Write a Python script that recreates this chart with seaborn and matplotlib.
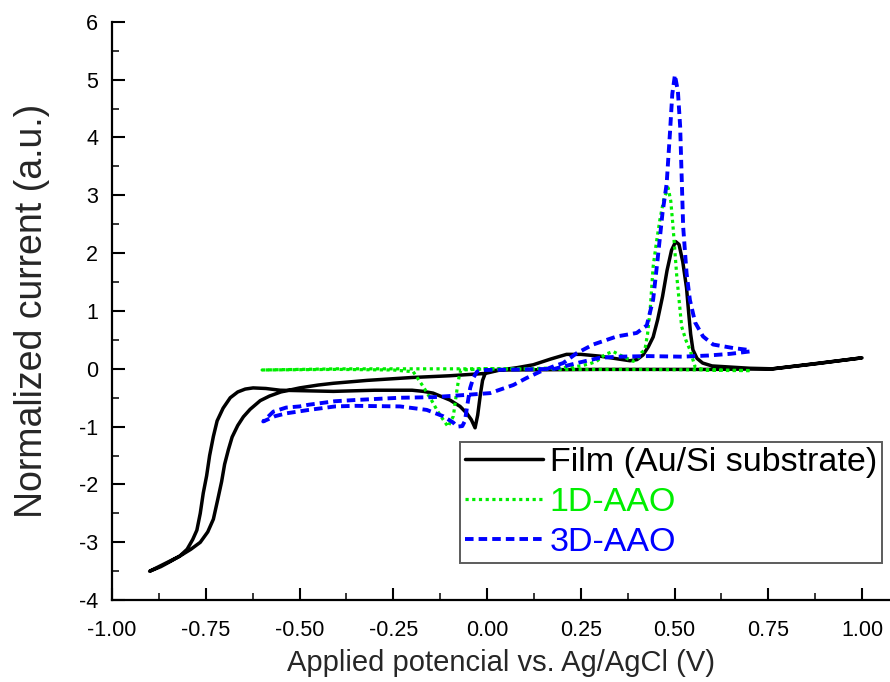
import matplotlib
matplotlib.use("Agg")
import matplotlib.pyplot as plt
from matplotlib.ticker import MultipleLocator, FormatStrFormatter
import seaborn as sns

# Cyclic voltammograms, normalized current vs. potential
film_x = [0.0, -0.005, -0.012, -0.018, -0.025, -0.032, -0.042, -0.054, -0.072, -0.099,
          -0.144, -0.17, -0.2, -0.3, -0.41, -0.552, -0.59, -0.624, -0.645, -0.665,
          -0.685, -0.704, -0.72, -0.73, -0.74, -0.748, -0.757, -0.765, -0.774, -0.785,
          -0.8, -0.82, -0.85, -0.87, -0.9, -0.86, -0.82, -0.79, -0.765, -0.745,
          -0.73, -0.718, -0.708, -0.7, -0.69, -0.68, -0.665, -0.65, -0.632, -0.605,
          -0.58, -0.55, -0.5, -0.45, -0.41, -0.32, -0.2, -0.1, -0.005, 0.035,
          0.08, 0.123, 0.17, 0.212, 0.25, 0.3, 0.35, 0.381, 0.4, 0.416,
          0.43, 0.443, 0.455, 0.468, 0.48, 0.492, 0.503, 0.512, 0.522, 0.532,
          0.538, 0.543, 0.549, 0.56, 0.575, 0.6, 0.65, 0.7, 0.763, 0.88,
          1.0, 0.85, 0.76, 0.6, 0.3, 0.05, 0.0]
film_y = [-0.03, -0.08, -0.2, -0.45, -0.8, -1.02, -0.88, -0.77, -0.65, -0.54,
          -0.42, -0.39, -0.37, -0.37, -0.39, -0.37, -0.34, -0.33, -0.35, -0.4,
          -0.5, -0.68, -0.9, -1.17, -1.5, -1.85, -2.15, -2.5, -2.79, -2.95,
          -3.12, -3.24, -3.35, -3.42, -3.5, -3.37, -3.24, -3.12, -3.0, -2.82,
          -2.6, -2.25, -1.95, -1.65, -1.4, -1.18, -0.98, -0.83, -0.7, -0.55,
          -0.47, -0.4, -0.33, -0.28, -0.25, -0.2, -0.15, -0.12, -0.08, -0.02,
          0.02, 0.07, 0.17, 0.25, 0.25, 0.22, 0.17, 0.14, 0.16, 0.24,
          0.38, 0.55, 0.85, 1.25, 1.7, 2.05, 2.2, 2.15, 1.85, 1.4,
          0.95, 0.6, 0.33, 0.18, 0.1, 0.05, 0.03, 0.01, 0.0, 0.09,
          0.19, 0.07, 0.0, -0.01, -0.01, -0.02, -0.03]

aao1d_x = [0.7, 0.6, 0.4, 0.2, 0.0, -0.07, -0.075, -0.08, -0.09, -0.104,
           -0.117, -0.134, -0.144, -0.17, -0.197, -0.25, -0.4, -0.6, -0.4, -0.2,
           0.0, 0.1, 0.2, 0.25, 0.275, 0.292, 0.315, 0.336, 0.36, 0.39,
           0.405, 0.412, 0.421, 0.428, 0.435, 0.443, 0.452, 0.461, 0.472, 0.483,
           0.49, 0.496, 0.506, 0.519, 0.53, 0.541, 0.555, 0.58, 0.65, 0.7]
aao1d_y = [-0.03, -0.02, -0.01, -0.01, 0.0, -0.02, -0.15, -0.35, -0.82, -1.0,
           -0.88, -0.71, -0.59, -0.31, -0.05, -0.02, -0.01, -0.02, 0.0, 0.0,
           0.0, 0.0, 0.02, 0.05, 0.09, 0.13, 0.25, 0.3, 0.22, 0.13,
           0.2, 0.28, 0.33, 0.6, 1.02, 1.77, 2.2, 2.58, 2.95, 3.13,
           2.9, 2.46, 1.6, 0.73, 0.5, 0.33, 0.03, -0.02, -0.03, -0.03]

aao3d_x = [0.7, 0.65, 0.59, 0.52, 0.43, 0.35, 0.3, 0.24, 0.18, 0.1,
           0.0, -0.015, -0.027, -0.037, -0.045, -0.052, -0.059, -0.066, -0.08, -0.09,
           -0.117, -0.161, -0.232, -0.352, -0.405, -0.44, -0.475, -0.505, -0.536, -0.566,
           -0.597, -0.57, -0.536, -0.5, -0.475, -0.44, -0.405, -0.354, -0.232, -0.144,
           -0.054, 0.008, 0.07, 0.105, 0.141, 0.176, 0.203, 0.239, 0.283, 0.346,
           0.399, 0.426, 0.443, 0.455, 0.468, 0.479, 0.488, 0.494, 0.501, 0.509,
           0.515, 0.519, 0.523, 0.532, 0.541, 0.555, 0.576, 0.603, 0.656, 0.693, 0.7]
aao3d_y = [0.3, 0.26, 0.23, 0.21, 0.22, 0.21, 0.19, 0.1, 0.0, -0.01,
           -0.02, -0.02, -0.05, -0.16, -0.33, -0.6, -0.9, -0.99, -1.0, -0.93,
           -0.82, -0.71, -0.65, -0.64, -0.65, -0.68, -0.71, -0.74, -0.77, -0.82,
           -0.91, -0.74, -0.67, -0.65, -0.62, -0.59, -0.56, -0.54, -0.5, -0.49,
           -0.45, -0.42, -0.28, -0.16, -0.05, 0.04, 0.1, 0.27, 0.42, 0.56,
           0.62, 0.75, 1.2, 1.9, 2.7, 3.2, 4.1, 4.75, 5.08, 4.8,
           4.19, 3.33, 2.46, 1.66, 1.19, 0.8, 0.56, 0.42, 0.36, 0.33, 0.35]

labels = ["Film (Au/Si substrate)", "1D-AAO", "3D-AAO"]
colors = ["#000000", "#00ee00", "#0000ff"]

sns.set_theme(style="ticks")
plt.rcParams["font.family"] = ["Liberation Sans", "DejaVu Sans"]
plt.rcParams["axes.unicode_minus"] = False
plt.rcParams["xtick.direction"] = "in"
plt.rcParams["ytick.direction"] = "in"

fig = plt.figure(figsize=(8.9, 6.82), dpi=100)
ax = fig.add_axes([0.126, 0.12, 0.874, 0.848])

sns.lineplot(x=film_x, y=film_y, sort=False, estimator=None, ax=ax,
             color=colors[0], lw=2.5, label=labels[0])
sns.lineplot(x=aao1d_x, y=aao1d_y, sort=False, estimator=None, ax=ax,
             color=colors[1], lw=2.3, linestyle=(0, (1, 1.1)), label=labels[1])
sns.lineplot(x=aao3d_x, y=aao3d_y, sort=False, estimator=None, ax=ax,
             color=colors[2], lw=2.8, linestyle=(0, (2.2, 1.3)), label=labels[2])

ax.set_xlim(-1.0, 1.0747)
ax.set_ylim(-4, 6)
ax.xaxis.set_major_locator(MultipleLocator(0.25))
ax.xaxis.set_minor_locator(MultipleLocator(0.125))
ax.yaxis.set_major_locator(MultipleLocator(1))
ax.yaxis.set_minor_locator(MultipleLocator(0.5))
ax.xaxis.set_major_formatter(FormatStrFormatter("%.2f"))
ax.yaxis.set_major_formatter(FormatStrFormatter("%d"))

for side in ("top", "right"):
    ax.spines[side].set_visible(False)
for side in ("left", "bottom"):
    ax.spines[side].set_linewidth(1.6)
    ax.spines[side].set_color("black")

ax.tick_params(which="both", direction="in", top=False, right=False)
ax.tick_params(which="major", length=9, width=1.5, labelsize=15.5, colors="black")
ax.tick_params(which="minor", length=5, width=1.3)
ax.tick_params(axis="x", which="major", pad=14)
ax.tick_params(axis="y", which="major", pad=10)

ax.set_xlabel("Applied potencial vs. Ag/AgCl (V)", fontsize=21, labelpad=6)
ax.set_ylabel("Normalized current (a.u.)", fontsize=27, labelpad=21)

leg = ax.legend(loc="lower right", bbox_to_anchor=(0.99, 0.064), fontsize=24.5,
                frameon=True, fancybox=False, edgecolor="#333333",
                handlelength=2.3, handletextpad=0.2, borderpad=0.15,
                labelspacing=0.26, borderaxespad=0)
leg.get_frame().set_linewidth(1.4)
for txt, c in zip(leg.get_texts(), colors):
    txt.set_color(c)

fig.savefig("out.png", dpi=100)
